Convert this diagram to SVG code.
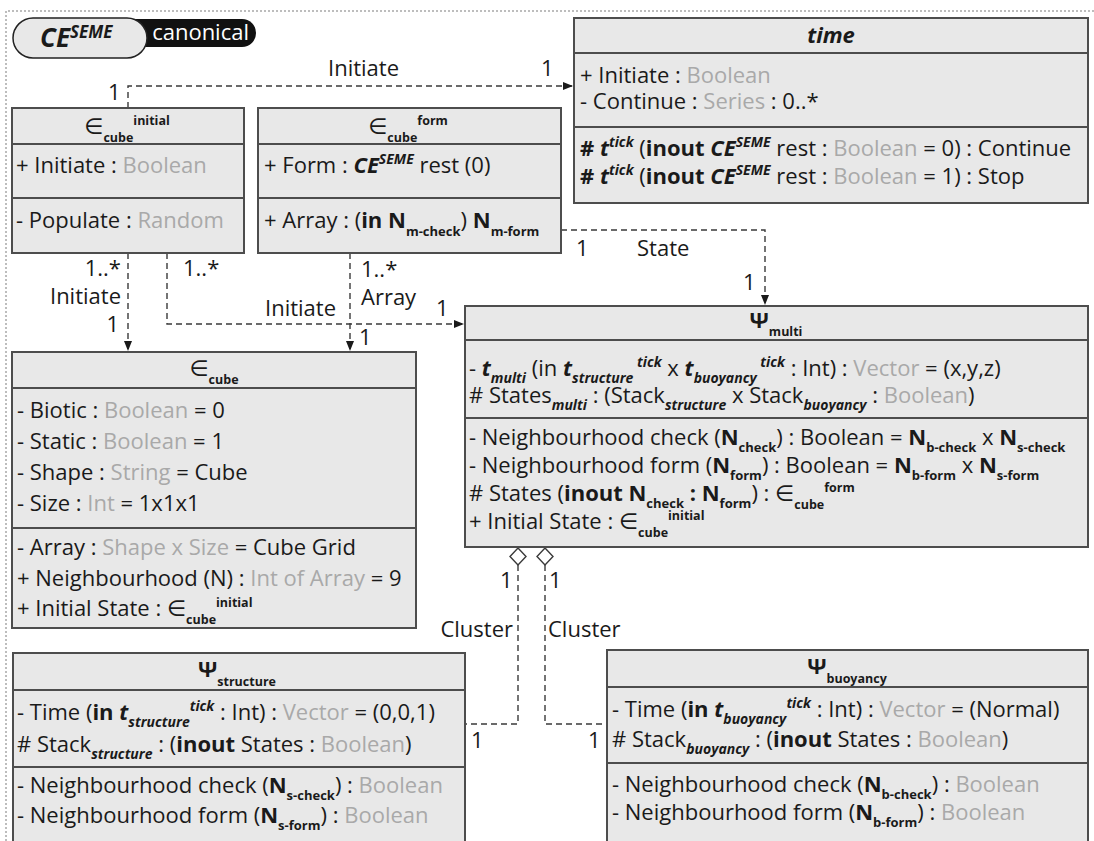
<svg xmlns="http://www.w3.org/2000/svg" width="1094" height="841" viewBox="0 0 1094 841">
<style>
  .t { font-family: "Open Sans", "Noto Sans", "DejaVu Sans", sans-serif; font-size: 22px; fill: #1a1a1a; }
  .g { fill: #a9a9a9; }
  .b { font-weight: bold; }
  .bi { font-weight: bold; font-style: italic; }
  .s { font-size: 13px; font-weight: bold; }
  .hs { font-size: 12.5px; font-weight: bold; }
  .si { font-size: 14px; font-weight: bold; font-style: italic; }
  .box { fill: #e8e8e8; stroke: #4d4d4d; stroke-width: 2; }
  .div { stroke: #4d4d4d; stroke-width: 2; }
  .con { fill: none; stroke: #3a3a3a; stroke-width: 1.4; stroke-dasharray: 6 4; }
  .dia { fill: #ffffff; stroke: #3a3a3a; stroke-width: 1.4; }
  .frame { fill: none; stroke: #bdbdbd; stroke-width: 2; stroke-dasharray: 2 2; }
</style>
<defs>
  <marker id="arr" viewBox="0 0 10 10" refX="10" refY="5" markerWidth="10" markerHeight="10" markerUnits="userSpaceOnUse" orient="auto">
    <path d="M0,1 L10,5 L0,9 z" fill="#1a1a1a"/>
  </marker>
</defs>

<!-- outer dotted frame -->
<path class="frame" d="M6,841 V11 H1094"/>

<!-- title badge -->
<g id="badge">
  <rect x="100" y="19" width="156" height="28" rx="14" fill="#111111"/>
  <text class="t" x="249" y="40" text-anchor="end" style="fill:#ffffff">canonical</text>
  <rect x="13" y="18" width="134" height="40" rx="20" fill="#e8e8e8" stroke="#222222" stroke-width="1.5"/>
  <text class="t bi" x="40" y="47" style="font-size:26px">CE<tspan style="font-size:17px" dy="-9">SEME</tspan></text>
</g>

<!-- connectors -->
<g id="connectors">
  <path class="con" d="M128,108 V86 H573" marker-end="url(#arr)"/>
  <path class="con" d="M128,253 V351" marker-end="url(#arr)"/>
  <path class="con" d="M167,253 V324 H464" marker-end="url(#arr)"/>
  <path class="con" d="M350,253 V351" marker-end="url(#arr)"/>
  <path class="con" d="M561,230 H765 V305" marker-end="url(#arr)"/>
  <path class="con" d="M518,565 V724 H466"/>
  <path class="con" d="M545,565 V724 H606"/>
  <polygon class="dia" points="518,548 526,556.5 518,565 510,556.5"/>
  <polygon class="dia" points="545,548 553,556.5 545,565 537,556.5"/>

  <text class="t" x="328" y="76">Initiate</text>
  <text class="t" x="541" y="76">1</text>
  <text class="t" x="108" y="100">1</text>
  <text class="t" x="121" y="276" text-anchor="end">1..*</text>
  <text class="t" x="121" y="304" text-anchor="end">Initiate</text>
  <text class="t" x="119" y="332" text-anchor="end">1</text>
  <text class="t" x="183" y="276">1..*</text>
  <text class="t" x="265" y="316">Initiate</text>
  <text class="t" x="361" y="277">1..*</text>
  <text class="t" x="361" y="305">Array</text>
  <text class="t" x="359" y="345">1</text>
  <text class="t" x="436" y="316">1</text>
  <text class="t" x="576" y="256">1</text>
  <text class="t" x="637" y="256">State</text>
  <text class="t" x="743" y="290">1</text>
  <text class="t" x="500" y="588">1</text>
  <text class="t" x="549" y="588">1</text>
  <text class="t" x="513" y="637" text-anchor="end">Cluster</text>
  <text class="t" x="548" y="637">Cluster</text>
  <text class="t" x="471" y="748">1</text>
  <text class="t" x="588" y="748">1</text>
</g>

<!-- time -->
<g id="time">
  <rect class="box" x="574" y="18" width="514" height="185"/>
  <line class="div" x1="574" y1="53" x2="1088" y2="53"/>
  <line class="div" x1="574" y1="127" x2="1088" y2="127"/>
  <text class="t bi" x="831" y="43" text-anchor="middle">time</text>
  <text class="t" x="580" y="83">+ Initiate : <tspan class="g">Boolean</tspan></text>
  <text class="t" x="580" y="109">- Continue : <tspan class="g">Series</tspan> : 0..*</text>
  <text class="t" x="580" y="156"><tspan class="b"># </tspan><tspan class="bi">t</tspan><tspan class="si" dy="-9">tick</tspan><tspan dy="9"> (</tspan><tspan class="b">inout </tspan><tspan class="bi">CE</tspan><tspan class="si" dy="-9">SEME</tspan><tspan dy="9"> rest : </tspan><tspan class="g">Boolean</tspan> = 0) : Continue</text>
  <text class="t" x="580" y="184"><tspan class="b"># </tspan><tspan class="bi">t</tspan><tspan class="si" dy="-9">tick</tspan><tspan dy="9"> (</tspan><tspan class="b">inout </tspan><tspan class="bi">CE</tspan><tspan class="si" dy="-9">SEME</tspan><tspan dy="9"> rest : </tspan><tspan class="g">Boolean</tspan> = 1) : Stop</text>
</g>

<!-- cube initial -->
<g id="cube-initial">
  <rect class="box" x="12" y="108" width="232" height="145"/>
  <line class="div" x1="12" y1="144" x2="244" y2="144"/>
  <line class="div" x1="12" y1="198" x2="244" y2="198"/>
  <text class="t" x="127" y="134" text-anchor="middle">∈<tspan class="hs" dy="8">cube</tspan><tspan class="hs" dy="-17">initial</tspan></text>
  <text class="t" x="16" y="173">+ Initiate : <tspan class="g">Boolean</tspan></text>
  <text class="t" x="16" y="228">- Populate : <tspan class="g">Random</tspan></text>
</g>

<!-- cube form -->
<g id="cube-form">
  <rect class="box" x="258" y="108" width="303" height="145"/>
  <line class="div" x1="258" y1="144" x2="561" y2="144"/>
  <line class="div" x1="258" y1="198" x2="561" y2="198"/>
  <text class="t" x="408" y="134" text-anchor="middle">∈<tspan class="hs" dy="8">cube</tspan><tspan class="hs" dy="-17">form</tspan></text>
  <text class="t" x="264" y="173">+ Form : <tspan class="bi">CE</tspan><tspan class="si" dy="-9">SEME</tspan><tspan dy="9"> rest (0)</tspan></text>
  <text class="t" x="264" y="228">+ Array : (<tspan class="b">in N</tspan><tspan class="s" dy="8">m-check</tspan><tspan dy="-8">) </tspan><tspan class="b">N</tspan><tspan class="s" dy="8">m-form</tspan></text>
</g>

<!-- cube -->
<g id="cube">
  <rect class="box" x="12" y="352" width="404" height="276"/>
  <line class="div" x1="12" y1="388" x2="416" y2="388"/>
  <line class="div" x1="12" y1="528" x2="416" y2="528"/>
  <text class="t" x="214" y="376" text-anchor="middle">∈<tspan class="hs" dy="8">cube</tspan></text>
  <text class="t" x="17" y="418">- Biotic : <tspan class="g">Boolean</tspan> = 0</text>
  <text class="t" x="17" y="449">- Static : <tspan class="g">Boolean</tspan> = 1</text>
  <text class="t" x="17" y="480">- Shape : <tspan class="g">String</tspan> = Cube</text>
  <text class="t" x="17" y="511">- Size : <tspan class="g">Int</tspan> = 1x1x1</text>
  <text class="t" x="17" y="555">- Array : <tspan class="g">Shape x Size</tspan> = Cube Grid</text>
  <text class="t" x="17" y="586">+ Neighbourhood (N) : <tspan class="g">Int of Array</tspan> = 9</text>
  <text class="t" x="17" y="616">+ Initial State : ∈<tspan class="hs" dy="8">cube</tspan><tspan class="hs" dy="-17">initial</tspan></text>
</g>

<!-- psi multi -->
<g id="psi-multi">
  <rect class="box" x="465" y="306" width="623" height="241"/>
  <line class="div" x1="465" y1="340" x2="1088" y2="340"/>
  <line class="div" x1="465" y1="418" x2="1088" y2="418"/>
  <text class="t b" x="776" y="328" text-anchor="middle">Ψ<tspan class="hs" dy="8">multi</tspan></text>
  <text class="t" x="469" y="376">- <tspan class="bi">t</tspan><tspan class="si" dy="7">multi</tspan><tspan dy="-7"> (in </tspan><tspan class="bi">t</tspan><tspan class="si" dy="7">structure</tspan><tspan class="si" dy="-16"> tick</tspan><tspan dy="9"> x </tspan><tspan class="bi">t</tspan><tspan class="si" dy="7">buoyancy</tspan><tspan class="si" dy="-16"> tick</tspan><tspan dy="9"> : Int) : </tspan><tspan class="g">Vector</tspan> = (x,y,z)</text>
  <text class="t" x="469" y="403"># States<tspan class="si" dy="7">multi</tspan><tspan dy="-7"> : (Stack</tspan><tspan class="si" dy="7">structure</tspan><tspan dy="-7"> x Stack</tspan><tspan class="si" dy="7">buoyancy</tspan><tspan dy="-7"> : </tspan><tspan class="g">Boolean</tspan>)</text>
  <text class="t" x="469" y="445">- Neighbourhood check (<tspan class="b">N</tspan><tspan class="s" dy="7">check</tspan><tspan dy="-7">) : Boolean = </tspan><tspan class="b">N</tspan><tspan class="s" dy="7">b-check</tspan><tspan dy="-7"> x </tspan><tspan class="b">N</tspan><tspan class="s" dy="7">s-check</tspan></text>
  <text class="t" x="469" y="473">- Neighbourhood form (<tspan class="b">N</tspan><tspan class="s" dy="7">form</tspan><tspan dy="-7">) : Boolean = </tspan><tspan class="b">N</tspan><tspan class="s" dy="7">b-form</tspan><tspan dy="-7"> x </tspan><tspan class="b">N</tspan><tspan class="s" dy="7">s-form</tspan></text>
  <text class="t" x="469" y="501"># States (<tspan class="b">inout N</tspan><tspan class="s" dy="7">check</tspan><tspan class="b" dy="-7"> : N</tspan><tspan class="s" dy="7">form</tspan><tspan dy="-7">) : ∈</tspan><tspan class="hs" dy="8">cube</tspan><tspan class="hs" dy="-17">form</tspan></text>
  <text class="t" x="469" y="529">+ Initial State : ∈<tspan class="hs" dy="8">cube</tspan><tspan class="hs" dy="-17">initial</tspan></text>
</g>

<!-- psi structure -->
<g id="psi-structure">
  <rect class="box" x="13" y="653" width="452" height="200"/>
  <line class="div" x1="13" y1="690" x2="465" y2="690"/>
  <line class="div" x1="13" y1="767" x2="465" y2="767"/>
  <text class="t b" x="237" y="677" text-anchor="middle">Ψ<tspan class="hs" dy="9">structure</tspan></text>
  <text class="t" x="17" y="720">- Time (<tspan class="b">in </tspan><tspan class="bi">t</tspan><tspan class="si" dy="7">structure</tspan><tspan class="si" dy="-16">tick</tspan><tspan dy="9"> : Int) : </tspan><tspan class="g">Vector</tspan> = (0,0,1)</text>
  <text class="t" x="17" y="752"># Stack<tspan class="si" dy="7">structure</tspan><tspan dy="-7"> : (</tspan><tspan class="b">inout</tspan> States : <tspan class="g">Boolean</tspan>)</text>
  <text class="t" x="17" y="793">- Neighbourhood check (<tspan class="b">N</tspan><tspan class="s" dy="7">s-check</tspan><tspan dy="-7">) : </tspan><tspan class="g">Boolean</tspan></text>
  <text class="t" x="17" y="823">- Neighbourhood form (<tspan class="b">N</tspan><tspan class="s" dy="7">s-form</tspan><tspan dy="-7">) : </tspan><tspan class="g">Boolean</tspan></text>
</g>

<!-- psi buoyancy -->
<g id="psi-buoyancy">
  <rect class="box" x="607" y="650" width="481" height="203"/>
  <line class="div" x1="607" y1="687" x2="1088" y2="687"/>
  <line class="div" x1="607" y1="763" x2="1088" y2="763"/>
  <text class="t b" x="847" y="674" text-anchor="middle">Ψ<tspan class="hs" dy="9">buoyancy</tspan></text>
  <text class="t" x="612" y="717">- Time (<tspan class="b">in </tspan><tspan class="bi">t</tspan><tspan class="si" dy="7">buoyancy</tspan><tspan class="si" dy="-16">tick</tspan><tspan dy="9"> : Int) : </tspan><tspan class="g">Vector</tspan> = (Normal)</text>
  <text class="t" x="612" y="747"># Stack<tspan class="si" dy="7">buoyancy</tspan><tspan dy="-7"> : (</tspan><tspan class="b">inout</tspan> States : <tspan class="g">Boolean</tspan>)</text>
  <text class="t" x="612" y="792">- Neighbourhood check (<tspan class="b">N</tspan><tspan class="s" dy="7">b-check</tspan><tspan dy="-7">) : </tspan><tspan class="g">Boolean</tspan></text>
  <text class="t" x="612" y="820">- Neighbourhood form (<tspan class="b">N</tspan><tspan class="s" dy="7">b-form</tspan><tspan dy="-7">) : </tspan><tspan class="g">Boolean</tspan></text>
</g>
</svg>
